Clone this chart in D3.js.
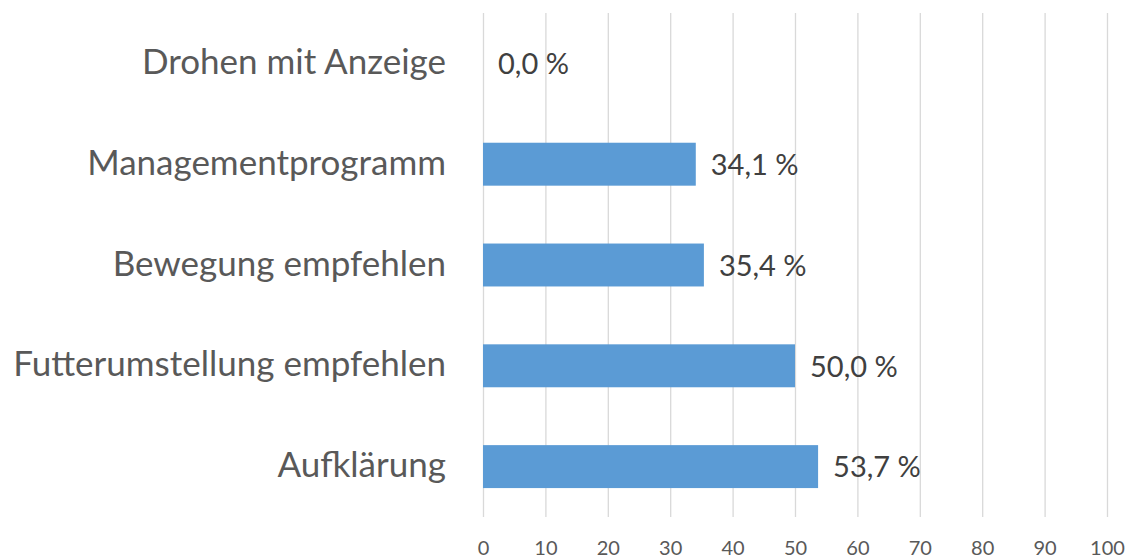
<!DOCTYPE html>
<meta charset="utf-8">
<script src="https://cdn.jsdelivr.net/npm/d3@7/dist/d3.min.js"></script>
<style>
    body { margin: 0; background: #fff; }
    svg text { font-family: Lato, "Open Sans", sans-serif; }
</style>
<body>
<script>
    // data (top to bottom)
    var categories = ["Drohen mit Anzeige", "Managementprogramm", "Bewegung empfehlen", "Futterumstellung empfehlen", "Aufklärung"];
    var values = [0.0, 34.1, 35.4, 50.0, 53.7];
    var xTicks = [0, 10, 20, 30, 40, 50, 60, 70, 80, 90, 100];

    var width = 1129, height = 559;
    // plot area edges (window.top is reserved, so use own names)
    var plotLeft = 483, plotRight = 1107, plotTop = 13, plotBottom = 517;

    var svg = d3.select("body").append("svg").attr("width", width).attr("height", height);

    var x = d3.scaleLinear().domain([0, 100]).range([plotLeft, plotRight]);
    var y = d3.scaleBand().domain(categories).range([plotTop, plotBottom]).paddingInner(0.574).paddingOuter(0.287);

    // vertical gridlines + tick labels
    var xAxis = svg.append("g")
        .attr("transform", "translate(0," + plotBottom + ")")
        .call(d3.axisBottom(x).tickValues(xTicks).tickSizeInner(-(plotBottom - plotTop)).tickSizeOuter(0).tickPadding(24));
    xAxis.select(".domain").remove();
    xAxis.selectAll(".tick line").attr("stroke", "#d9d9d9").attr("stroke-width", 1.3);
    xAxis.selectAll(".tick text").attr("fill", "#595959").style("font-size", "20px");

    // category labels
    var yAxis = svg.append("g")
        .attr("transform", "translate(" + plotLeft + ",0)")
        .call(d3.axisLeft(y).tickSize(0).tickPadding(37));
    yAxis.select(".domain").remove();
    yAxis.selectAll(".tick text").attr("fill", "#595959").attr("dy", "0.3em").style("font-size", "35px");

    var rows = categories.map(function (c, i) { return { name: c, value: values[i] }; });

    // bars
    svg.selectAll("rect.bar").data(rows).enter().append("rect")
        .attr("class", "bar")
        .attr("x", x(0))
        .attr("y", function (d) { return y(d.name); })
        .attr("width", function (d) { return x(d.value) - x(0); })
        .attr("height", y.bandwidth())
        .attr("fill", "#5b9bd5");

    // value labels
    svg.selectAll("text.val").data(rows).enter().append("text")
        .attr("class", "val")
        .attr("x", function (d) { return x(d.value) + 15; })
        .attr("y", function (d) { return y(d.name) + y.bandwidth() / 2; })
        .attr("dy", "0.37em")
        .attr("fill", "#404040")
        .style("font-size", "29px")
        .text(function (d) { return d.value.toFixed(1).replace(".", ",") + " %"; });
</script>
